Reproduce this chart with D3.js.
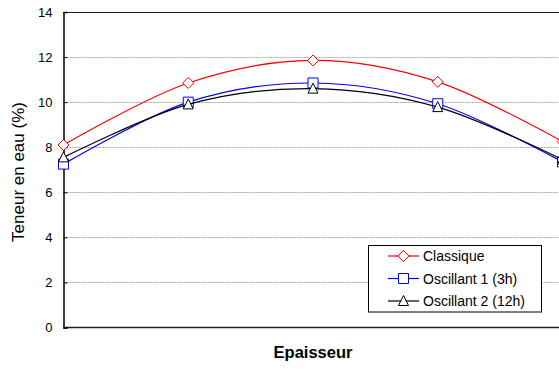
<!DOCTYPE html>
<html>
<head>
<meta charset="utf-8">
<script src="https://cdn.jsdelivr.net/npm/d3@7"></script>
<style>
  html, body { margin: 0; padding: 0; background: #fff; }
  svg { display: block; font-family: Arial, "Liberation Sans", sans-serif; }
</style>
</head>
<body>
<svg id="chart" width="559" height="369"></svg>
<script>
const categories = [1, 2, 3, 4, 5];
const classique = [8.1, 10.85, 11.85, 10.9, 8.25];
const oscillant1 = [7.25, 10.0, 10.85, 9.93, 7.35];
const oscillant2 = [7.55, 9.9, 10.6, 9.78, 7.45];
const yTicks = [0, 2, 4, 6, 8, 10, 12, 14];
const seriesNames = ["Classique", "Oscillant 1 (3h)", "Oscillant 2 (12h)"];

const svg = d3.select("#chart");
const plotLeft = 63.5, plotRight = 562.5, plotTop = 12, plotBottom = 327.5;

const x = d3.scalePoint().domain(categories).range([plotLeft, plotRight]);
const y = d3.scaleLinear().domain([0, 14]).range([plotBottom, plotTop]);

// gridlines
svg.append("g").selectAll("line").data(yTicks.filter(d => d > 0 && d < 14)).join("line")
  .attr("x1", plotLeft).attr("x2", 600)
  .attr("y1", d => Math.round(y(d)) + 0.5).attr("y2", d => Math.round(y(d)) + 0.5)
  .attr("stroke", "#a6a6a6").attr("stroke-width", 1).attr("stroke-dasharray", "2,1");

// top border and bottom axis
svg.append("line").attr("x1", plotLeft).attr("x2", 600).attr("y1", plotTop + 0.5).attr("y2", plotTop + 0.5)
  .attr("stroke", "#222").attr("stroke-width", 1.2);
svg.append("line").attr("x1", plotLeft).attr("x2", 600).attr("y1", plotBottom).attr("y2", plotBottom)
  .attr("stroke", "#222").attr("stroke-width", 1.5);

// y axis
const yAxis = d3.axisLeft(y).tickValues(yTicks).tickSize(-4).tickPadding(11).tickFormat(d3.format("d"));
const gy = svg.append("g").attr("transform", `translate(${plotLeft},0)`).call(yAxis);
gy.select(".domain").attr("stroke", "#000").attr("stroke-width", 1.5);
gy.selectAll(".tick line").attr("stroke", "#000");
gy.selectAll(".tick text").attr("font-size", 13).attr("fill", "#000")
  .attr("font-family", "Arial, 'Liberation Sans', sans-serif");

// axis titles
svg.append("text").attr("transform", `translate(24,172) rotate(-90)`)
  .attr("text-anchor", "middle").attr("font-size", 17).text("Teneur en eau (%)");
svg.append("text").attr("x", 313).attr("y", 358).attr("text-anchor", "middle")
  .attr("font-size", 16.5).attr("font-weight", "bold").text("Epaisseur");

const line = d3.line().x((d, i) => x(categories[i])).y(d => y(d)).curve(d3.curveCardinal.tension(0));

const symbols = {
  diamond: (cx, cy) => `M${cx},${cy - 5.5}L${cx + 5.5},${cy}L${cx},${cy + 5.5}L${cx - 5.5},${cy}Z`,
  square: (cx, cy) => `M${cx - 5},${cy - 5}H${cx + 5}V${cy + 5}H${cx - 5}Z`,
  triangle: (cx, cy) => `M${cx},${cy - 5.5}L${cx + 5},${cy + 4.5}H${cx - 5}Z`
};

const series = [
  { name: seriesNames[0], values: classique, color: "#ff0000", sym: "diamond" },
  { name: seriesNames[1], values: oscillant1, color: "#0000ff", sym: "square" },
  { name: seriesNames[2], values: oscillant2, color: "#000000", sym: "triangle" }
];

series.forEach(s => {
  const g = svg.append("g");
  g.append("path").attr("d", line(s.values)).attr("fill", "none")
    .attr("stroke", s.color).attr("stroke-width", 1.2);
  g.selectAll("path.m").data(s.values).join("path").attr("class", "m")
    .attr("d", (d, i) => symbols[s.sym](x(categories[i]), y(d)))
    .attr("fill", "#fff").attr("stroke", s.color).attr("stroke-width", 1);
});

// legend
const lg = svg.append("g");
lg.append("rect").attr("x", 368.5).attr("y", 245.5).attr("width", 173).attr("height", 66.5)
  .attr("fill", "#fff").attr("stroke", "#000").attr("stroke-width", 1);
series.forEach((s, i) => {
  const cy = 256 + i * 22.5;
  lg.append("line").attr("x1", 388).attr("x2", 419).attr("y1", cy).attr("y2", cy)
    .attr("stroke", s.color).attr("stroke-width", 1.2);
  lg.append("path").attr("d", symbols[s.sym](403.5, cy)).attr("fill", "#fff")
    .attr("stroke", s.color).attr("stroke-width", 1);
  lg.append("text").attr("x", 423).attr("y", cy + 5).attr("font-size", 14).text(s.name);
});
</script>
</body>
</html>
